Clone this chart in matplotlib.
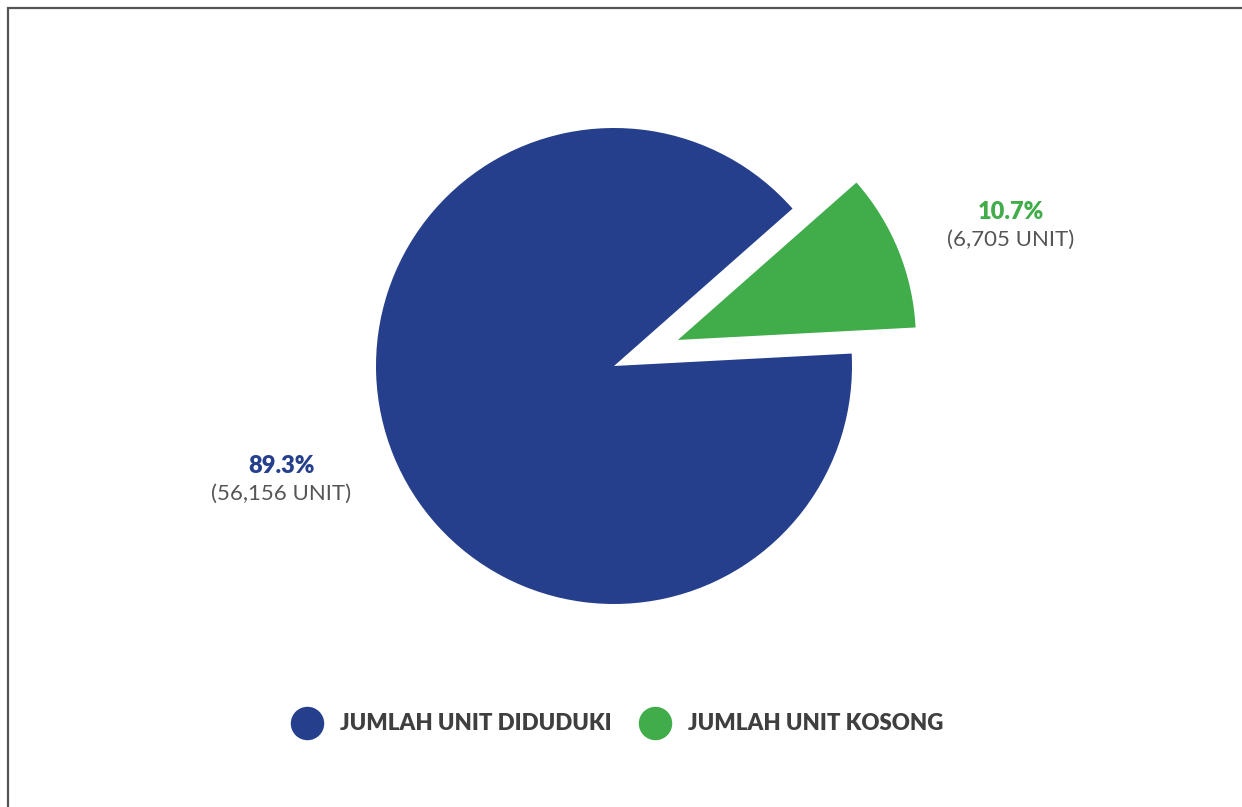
import matplotlib.pyplot as plt
from matplotlib.patches import Rectangle

# data
labels = ['JUMLAH UNIT KOSONG', 'JUMLAH UNIT DIDUDUKI']
units = [6705, 56156]
pct_text = ['10.7%', '89.3%']
unit_text = ['(6,705 UNIT)', '(56,156 UNIT)']
colors = ['#41ac4a', '#253f8c']
explode = [0.29, 0.0]

plt.rcParams['font.family'] = ['Lato', 'DejaVu Sans']

W, H = 1242, 807
fig = plt.figure(figsize=(W / 100, H / 100), dpi=100)
ax = fig.add_axes([0, 0, 1, 1])

cx, cy, r = 614, H - 366, 238
# pie() offsets exploded wedges in data units, so scale by radius
ax.pie(units, colors=colors, explode=[e * r for e in explode], startangle=3,
       center=(cx, cy), radius=r, wedgeprops=dict(linewidth=0))

ax.set_xlim(0, W)
ax.set_ylim(0, H)
ax.set_aspect('equal')
ax.axis('off')

# frame (only top and left visible in the reference)
ax.add_patch(Rectangle((7.5, -20), W + 40, H - 8 + 20, fill=False,
                       edgecolor='#555555', linewidth=1.6))

# labels
lab_pos = [(1011, H - 212), (281, H - 466)]
for (x, y), p, u, c in zip(lab_pos, pct_text, unit_text, colors):
    ax.text(x, y, p, color=c, fontsize=17, fontweight='heavy',
            ha='center', va='center')
    ax.text(x, y - 28, u, color='#555555', fontsize=16,
            ha='center', va='center')

# legend
leg_pos = [(655, H - 723), (307, H - 723)]
for (x, y), lab, c in zip(leg_pos, labels, colors):
    ax.scatter([x], [y], s=580, color=c, linewidths=0)
    ax.text(x + 33, y, lab, color='#3f3f3f', fontsize=16, fontweight='heavy',
            ha='left', va='center')

fig.savefig('out.png', dpi=100)
